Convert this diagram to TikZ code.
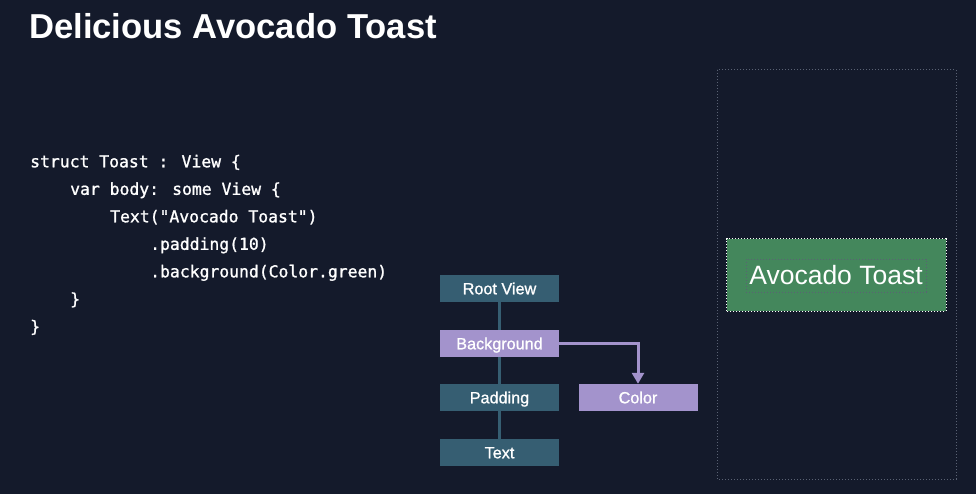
\documentclass[tikz,border=0pt]{standalone}
\usepackage{fontspec}
\setmainfont{Liberation Sans}
\newfontfamily\codefont[FakeBold=1.2]{DejaVu Sans Mono}
\newfontfamily\labelfont[FakeBold=1.0]{Liberation Sans}
\usetikzlibrary{arrows.meta}
\definecolor{bgnavy}{HTML}{141A2B}
\definecolor{treeteal}{HTML}{365E72}
\definecolor{lav}{HTML}{A393CC}
\definecolor{toastgreen}{HTML}{44875C}
\definecolor{guide}{HTML}{5A6274}
\begin{document}
\begin{tikzpicture}[x=1pt,y=-1pt,
  codeline/.style={anchor=base west,inner sep=0pt,text=white,font=\codefont\fontsize{16.4}{18}\selectfont},
  viewbox/.style={minimum width=119pt,minimum height=27pt,inner sep=0pt,text=white,
    text height=11.6pt,text depth=0pt,
    font=\labelfont\fontsize{16.2}{18}\selectfont},
  tealbox/.style={viewbox,fill=treeteal},
  lavbox/.style={viewbox,fill=lav},
  link/.style={treeteal,line width=2.5pt},
  guideline/.style={guide,dotted,line width=1pt}]
% canvas
\fill[bgnavy] (0,0) rectangle (976,494);
\useasboundingbox (0,0) rectangle (976,494);
% title
\node[anchor=base west,inner sep=0pt,text=white,font=\bfseries\fontsize{34.6}{38}\selectfont] (title) at (29,39) {Delicious Avocado Toast};
% source code
\node[codeline] (c1) at (30,167.3) {struct Toast : View \{};
\node[codeline] (c2) at (70,194.8) {var body: some View \{};
\node[codeline] (c3) at (110,222.3) {Text("Avocado Toast")};
\node[codeline] (c4) at (150,249.8) {.padding(10)};
\node[codeline] (c5) at (150,277.3) {.background(Color.green)};
\node[codeline] (c6) at (70,304.8) {\}};
\node[codeline] (c7) at (30,332.3) {\}};
% view tree
\node[tealbox] (root) at (499.5,288.5) {Root View};
\node[lavbox]  (bg)   at (499.5,343.5) {Background};
\node[tealbox] (pad)  at (499.5,397.5) {Padding};
\node[tealbox] (txt)  at (499.5,452.5) {Text};
\node[lavbox]  (col)  at (638,397.5) {Color};
\draw[link] (root.south) -- (bg.north);
\draw[link] (bg.south) -- (pad.north);
\draw[link] (pad.south) -- (txt.north);
\draw[lav,line width=3pt,-{Triangle[width=12pt,length=11pt]}] (bg.east) -| (col.north);
% rendered preview
\draw[guideline] (717,70) rectangle (956,479);
\node[fill=toastgreen,minimum width=219pt,minimum height=72pt,inner sep=0pt] (toast) at (836.5,275) {};
\draw[white,dotted,line width=1pt] (toast.south west) rectangle (toast.north east);
\node[draw=guide,dotted,line width=1pt,minimum width=180pt,minimum height=33pt,inner sep=0pt,
  text=white,font=\fontsize{26.5}{30}\selectfont] (label) at (836,275.5) {Avocado Toast};
\end{tikzpicture}
\end{document}
